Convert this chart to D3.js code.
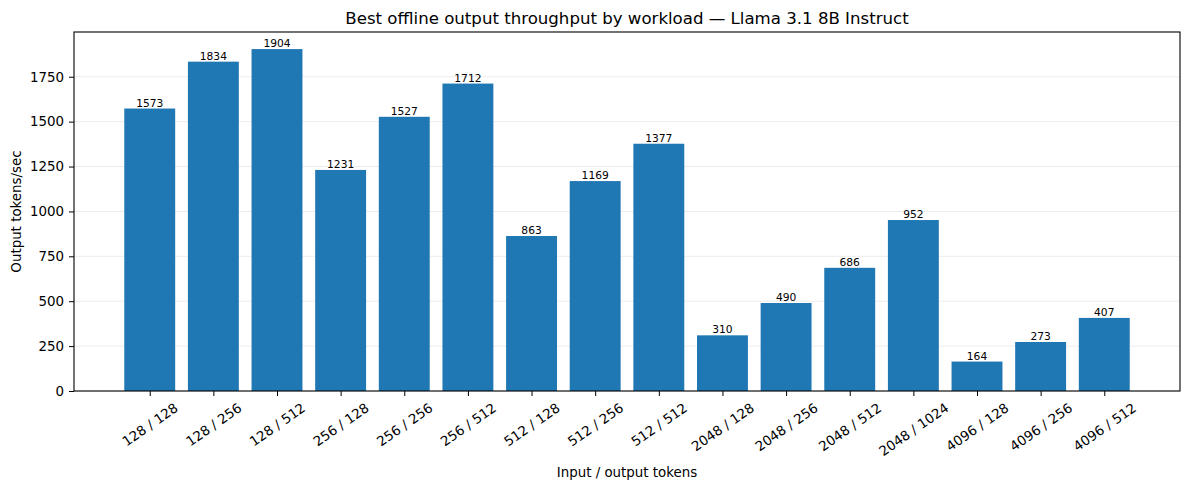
<!DOCTYPE html>
<html><head><meta charset="utf-8">
<script src="https://cdn.jsdelivr.net/npm/d3@7"></script>
<style>
body{margin:0;background:#fff;}
text{font-family:"DejaVu Sans",sans-serif;fill:#000;}
</style></head>
<body><svg id="c" width="1189" height="490"></svg>
<script>
const categories = ["128 / 128","128 / 256","128 / 512","256 / 128","256 / 256","256 / 512","512 / 128","512 / 256","512 / 512","2048 / 128","2048 / 256","2048 / 512","2048 / 1024","4096 / 128","4096 / 256","4096 / 512"];
const throughput = [1573,1834,1904,1231,1527,1712,863,1169,1377,310,490,686,952,164,273,407];
const yTicks = [0,250,500,750,1000,1250,1500,1750];
const titleText = "Best offline output throughput by workload — Llama 3.1 8B Instruct";
const xLabel = "Input / output tokens";
const yLabel = "Output tokens/sec";

const svg = d3.select("#c");
const L=74, R=1180, T=32, B=391;
const n = categories.length;
const x = d3.scaleLinear().domain([-0.4-0.05*(n-0.2), n-1+0.4+0.05*(n-0.2)]).range([L,R]);
const ymax = d3.max(throughput)*1.05;
const y = d3.scaleLinear().domain([0,ymax]).range([B,T]);
const fs = 13.4;

// grid
svg.append("g").selectAll("line").data(yTicks).join("line")
  .attr("x1",L).attr("x2",R).attr("y1",d=>y(d)).attr("y2",d=>y(d))
  .attr("stroke","#b0b0b0").attr("stroke-opacity",0.3).attr("stroke-width",0.8);

// bars
svg.append("g").selectAll("rect").data(throughput).join("rect")
  .attr("x",(d,i)=>x(i-0.4)).attr("width",(d,i)=>x(i+0.4)-x(i-0.4))
  .attr("y",d=>y(d)).attr("height",d=>B-y(d)).attr("fill","#1f77b4");

// bar labels
svg.append("g").selectAll("text").data(throughput).join("text")
  .attr("x",(d,i)=>x(i)).attr("y",d=>y(d)-2)
  .attr("text-anchor","middle").attr("font-size",10.7).text(d=>d);

// frame
svg.append("rect").attr("x",L).attr("y",T).attr("width",R-L).attr("height",B-T)
  .attr("fill","none").attr("stroke","#000").attr("stroke-width",1.1);

// y axis
const yAxis = d3.axisLeft(y).tickValues(yTicks).tickFormat(d3.format("d")).tickSize(5).tickPadding(5);
const gy = svg.append("g").attr("transform",`translate(${L},0)`).call(yAxis);
gy.select(".domain").remove();
gy.selectAll("text").attr("font-size",fs).attr("font-family","DejaVu Sans").attr("fill","#000");
gy.selectAll("line").attr("stroke","#000").attr("stroke-width",1);

// x axis
const xAxis = d3.axisBottom(x).tickValues(d3.range(n)).tickFormat(i=>categories[i]).tickSize(5).tickPadding(4);
const gx = svg.append("g").attr("transform",`translate(0,${B})`).call(xAxis);
gx.select(".domain").remove();
gx.selectAll("line").attr("stroke","#000").attr("stroke-width",1);
gx.selectAll("text").attr("font-size",fs).attr("font-family","DejaVu Sans").attr("fill","#000")
  .attr("dy",null).attr("y",null)
  .attr("text-anchor","middle")
  .attr("dominant-baseline","central")
  .attr("transform",function(){
     const w = this.getComputedTextLength();
     const a = 35*Math.PI/180; const h = fs*1.16;
     const bh = w*Math.sin(a)+h*Math.cos(a);
     return `translate(0,${5+4+bh/2}) rotate(-35)`;
  });

// title & labels
svg.append("text").attr("x",(L+R)/2).attr("y",T-8).attr("text-anchor","middle").attr("font-size",16.6).text(titleText);
svg.append("text").attr("x",(L+R)/2).attr("y",477).attr("text-anchor","middle").attr("font-size",fs).text(xLabel);
svg.append("text").attr("transform",`translate(21,${(T+B)/2}) rotate(-90)`).attr("text-anchor","middle").attr("font-size",fs).text(yLabel);
</script></body></html>
